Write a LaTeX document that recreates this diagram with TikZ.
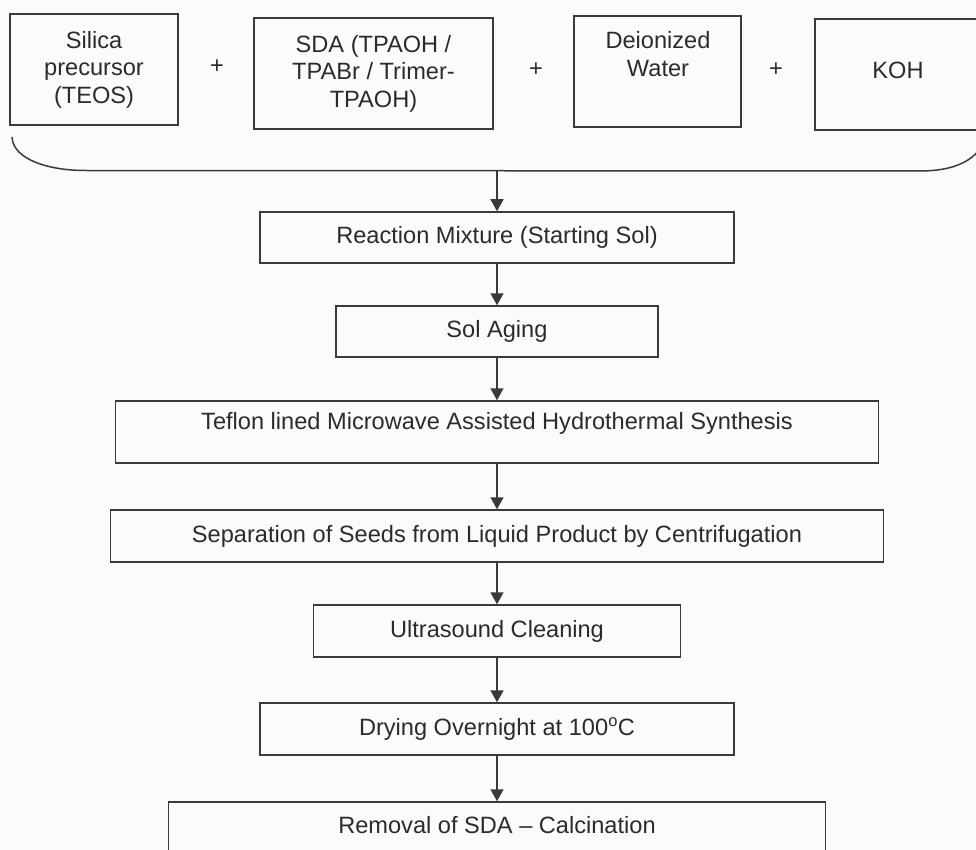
\documentclass[tikz,border=0pt]{standalone}
\usepackage{fontspec}
\setmainfont{Liberation Sans}
\usetikzlibrary{arrows.meta}
\definecolor{linec}{HTML}{3A3A3A}
\definecolor{txtc}{HTML}{2B2B2B}
\definecolor{bgc}{HTML}{FAFBFC}
\newcommand{\diagfont}{\fontsize{23.6pt}{27.5pt}\selectfont}
\begin{document}
\begin{tikzpicture}[x=1pt,y=-1pt,
  box/.style={draw=linec, line width=1.5pt, inner sep=0pt, align=center, font=\diagfont, text=txtc},
  lbl/.style={inner sep=0pt, align=center, font=\diagfont, text=txtc},
  flow/.style={draw=linec, line width=1.5pt, -{Triangle[length=12pt,width=13pt]}, fill=linec}]
\useasboundingbox (0,0) rectangle (976,850);
\fill[bgc] (0,0) rectangle (976,850);
% input boxes
\node[box, minimum width=168pt, minimum height=111pt] (silica) at (94,69.5) {Silica\\precursor\\(TEOS)};
\node[box, minimum width=239pt, minimum height=111pt] (sda) at (373.5,73.5) {SDA (TPAOH /\\TPABr / Trimer-\\TPAOH)};
\node[box, minimum width=167pt, minimum height=111pt] (water) at (657.5,71.5) {};
\node[lbl] (watert) at (658,54) {Deionized\\Water};
\node[box, minimum width=175pt, minimum height=111pt] (koh) at (902.5,74.5) {};
\node[lbl] (koht) at (898,70) {KOH};
\node[lbl] (p1) at (217,67) {+};
\node[lbl] (p2) at (536,70) {+};
\node[lbl] (p3) at (776,70) {+};
% brace
\coordinate (bmid) at (497,171);
\draw[draw=linec, line width=1.5pt] (12,137) .. controls (13,160) and (50,170.5) .. (85,170.5) -- (920,171) .. controls (952,171) and (970,162) .. (980,149);
% process boxes
\node[box, minimum width=474pt, minimum height=51pt] (mix) at (497,237.5) {Reaction Mixture (Starting Sol)};
\node[box, minimum width=322pt, minimum height=51pt] (aging) at (497,331.5) {Sol Aging};
\node[box, minimum width=763pt, minimum height=62pt] (teflon) at (497,432) {};
\node[lbl] (teflont) at (497,423) {Teflon lined Microwave Assisted Hydrothermal Synthesis};
\node[box, minimum width=773pt, minimum height=52pt] (sep) at (497,536) {Separation of Seeds from Liquid Product by Centrifugation};
\node[box, minimum width=367pt, minimum height=52pt] (ultra) at (497,631) {Ultrasound Cleaning};
\node[box, minimum width=474pt, minimum height=52pt] (dry) at (497,729) {Drying Overnight at 100\textsuperscript{o}C};
\node[box, minimum width=657pt, minimum height=80pt] (calc) at (497,842) {};
\node[lbl] (calct) at (497,825) {Removal of SDA -- Calcination};
% arrows
\draw[flow] (bmid) -- (mix.north);
\draw[flow] (mix.south) -- (aging.north);
\draw[flow] (aging.south) -- (teflon.north);
\draw[flow] (teflon.south) -- (sep.north);
\draw[flow] (sep.south) -- (ultra.north);
\draw[flow] (ultra.south) -- (dry.north);
\draw[flow] (dry.south) -- (calc.north);
\end{tikzpicture}
\end{document}
